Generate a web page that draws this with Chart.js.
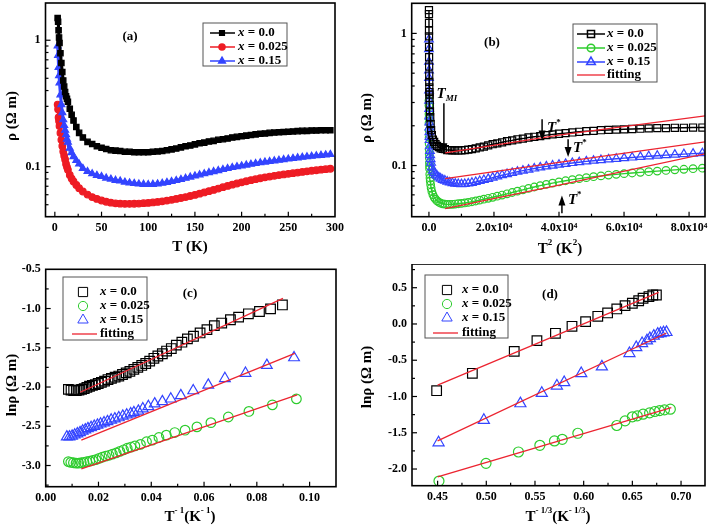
<!DOCTYPE html>
<html>
<head>
<meta charset="utf-8">
<script src="https://cdn.jsdelivr.net/npm/chart.js@4.4.1/dist/chart.umd.min.js"></script>
<style>
  body { margin: 0; background: #fff; }
  #wrap { position: relative; width: 709px; height: 528px; }
  canvas { position: absolute; }
</style>
</head>
<body>
<div id="wrap">
  <canvas id="chartA" width="355" height="264" style="left:0;top:0"></canvas>
  <canvas id="chartB" width="354" height="264" style="left:355px;top:0"></canvas>
  <canvas id="chartC" width="355" height="264" style="left:0;top:264px"></canvas>
  <canvas id="chartD" width="354" height="264" style="left:355px;top:264px"></canvas>
</div>
<script>
// resistivity vs temperature, panels (a) and (b)
const tempK = [3, 3.5, 4, 4.5, 5, 6, 7, 8, 9, 10, 11, 12, 13, 14, 16, 18, 20, 23, 26, 30, 35,
  40, 45, 50, 55, 60, 65, 70, 75, 80, 85, 90, 95, 100, 105, 110, 115, 120, 125, 130, 135, 140,
  145, 150, 155, 160, 165, 170, 175, 180, 185, 190, 195, 200, 205, 210, 215, 220, 225, 230,
  235, 240, 245, 250, 255, 260, 265, 270, 275, 280, 285, 290, 295];
const rhoX0 = [1.50, 1.40, 1.20, 1.05, 0.95, 0.79, 0.66, 0.56, 0.48, 0.43, 0.39, 0.36, 0.344, 0.326, 0.287, 0.257, 0.232, 0.206, 0.185, 0.170, 0.157,
  0.151, 0.145, 0.141, 0.138, 0.135, 0.134, 0.133, 0.131, 0.131, 0.130, 0.130, 0.130, 0.130, 0.131, 0.132, 0.133, 0.135, 0.137, 0.139, 0.142, 0.145,
  0.147, 0.150, 0.153, 0.155, 0.158, 0.160, 0.163, 0.165, 0.167, 0.170, 0.172, 0.174, 0.176, 0.178, 0.180, 0.182, 0.183, 0.185,
  0.186, 0.187, 0.188, 0.189, 0.190, 0.191, 0.192, 0.192, 0.193, 0.193, 0.194, 0.194, 0.194];
const rhoX025 = [0.31, 0.285, 0.245, 0.23, 0.21, 0.185, 0.163, 0.146, 0.132, 0.122, 0.114, 0.105, 0.0992, 0.0944, 0.086, 0.0805, 0.0763, 0.0716, 0.0675, 0.0636, 0.0602,
  0.0575, 0.0556, 0.0540, 0.0528, 0.0519, 0.0513, 0.0510, 0.0508, 0.0508, 0.0509, 0.0511, 0.0514, 0.0517, 0.0521, 0.0526, 0.0532, 0.0539, 0.0547, 0.0556, 0.0565, 0.0575,
  0.0586, 0.0598, 0.0611, 0.0625, 0.064, 0.0655, 0.0671, 0.0688, 0.0704, 0.072, 0.0736, 0.0752, 0.0767, 0.0782, 0.0796, 0.081, 0.0823, 0.0835,
  0.0847, 0.0858, 0.0868, 0.0878, 0.0888, 0.0898, 0.0908, 0.0918, 0.0928, 0.0937, 0.0946, 0.0955, 0.0963];
const rhoX15 = [0.90, 0.76, 0.61, 0.525, 0.46, 0.37, 0.31, 0.268, 0.235, 0.212, 0.194, 0.179, 0.165, 0.156, 0.140, 0.129, 0.120, 0.112, 0.105, 0.097, 0.0916,
  0.088, 0.0854, 0.0837, 0.0813, 0.0797, 0.078, 0.0770, 0.0755, 0.0745, 0.0737, 0.0730, 0.0725, 0.0723, 0.0725, 0.0731, 0.0740, 0.0751, 0.0764, 0.0778, 0.0793, 0.081,
  0.0828, 0.0845, 0.0862, 0.088, 0.0898, 0.0915, 0.0932, 0.095, 0.0968, 0.0985, 0.100, 0.1015, 0.103, 0.1045, 0.106, 0.1075, 0.1088, 0.110,
  0.1113, 0.1125, 0.1138, 0.115, 0.1163, 0.1175, 0.1187, 0.1198, 0.1209, 0.122, 0.123, 0.124, 0.125];

// T^2 fits, panel (b)
const fitBx = [5000, 40000, 85000];
const fitBx0 = [0.1247, 0.170, 0.2375];
const fitBx025 = [0.0472, 0.071, 0.1228];
const fitBx15 = [0.0796, 0.1055, 0.151];

// ln(rho) vs 1/T, panel (c)
const invTx0 = [0.0086, 0.0096, 0.0106, 0.0116, 0.0126, 0.0136, 0.0146, 0.0156, 0.0166, 0.0177, 0.0188, 0.0199, 0.0211, 0.0223, 0.0236,
  0.0249, 0.0263, 0.0277, 0.0291, 0.0305, 0.0319, 0.0334, 0.0349, 0.0364, 0.0379, 0.0394, 0.0410, 0.0425, 0.0442, 0.0458,
  0.0476, 0.0495, 0.0516, 0.0537, 0.0560, 0.0585, 0.0611, 0.0639, 0.0667, 0.0700, 0.0731, 0.0768, 0.0810, 0.0852, 0.0897];
const lnCx0 = [-2.03, -2.04, -2.045, -2.045, -2.04, -2.03, -2.02, -2.005, -1.99, -1.98, -1.97, -1.955, -1.94, -1.925, -1.905,
  -1.89, -1.875, -1.86, -1.84, -1.82, -1.80, -1.775, -1.75, -1.725, -1.70, -1.67, -1.634, -1.605, -1.576, -1.542,
  -1.51, -1.466, -1.429, -1.387, -1.353, -1.311, -1.269, -1.218, -1.185, -1.143, -1.109, -1.067, -1.038, -1.004, -0.954];
const invTx025 = [0.0086, 0.0095, 0.0105, 0.0115, 0.0125, 0.0135, 0.0145, 0.0156, 0.0167, 0.0178, 0.0190, 0.0202, 0.0214, 0.0227, 0.0240,
  0.0253, 0.0267, 0.0281, 0.0295, 0.0309, 0.0323, 0.0338, 0.0359, 0.0382, 0.0404, 0.0429, 0.0457, 0.0489, 0.0528, 0.0573,
  0.0626, 0.0692, 0.0770, 0.0859, 0.0950];
const lnCx025 = [-2.95, -2.96, -2.965, -2.97, -2.97, -2.965, -2.96, -2.95, -2.945, -2.935, -2.925, -2.91, -2.895, -2.88, -2.87,
  -2.855, -2.84, -2.82, -2.80, -2.78, -2.765, -2.75, -2.731, -2.697, -2.676, -2.643, -2.613, -2.58, -2.55, -2.508,
  -2.454, -2.382, -2.311, -2.227, -2.151];
const invTx15 = [0.0080, 0.0090, 0.0100, 0.0110, 0.0120, 0.0130, 0.0140, 0.0150, 0.0160, 0.0172, 0.0184, 0.0196, 0.0208, 0.0221, 0.0234,
  0.0248, 0.0262, 0.0277, 0.0292, 0.0307, 0.0322, 0.0334, 0.0351, 0.0368, 0.0389, 0.0413, 0.0442, 0.0474, 0.0512, 0.0559,
  0.0616, 0.0679, 0.0757, 0.0838, 0.0941];
const lnCx15 = [-2.635, -2.635, -2.625, -2.61, -2.595, -2.58, -2.56, -2.545, -2.53, -2.515, -2.50, -2.485, -2.47, -2.455, -2.44,
  -2.42, -2.405, -2.39, -2.37, -2.355, -2.34, -2.325, -2.307, -2.277, -2.248, -2.214, -2.185, -2.151, -2.109, -2.046,
  -1.975, -1.891, -1.824, -1.723, -1.626];
const fitCx0 = [[0.0131, 0.0899], [-2.067, -0.87]];
const fitCx025 = [[0.0135, 0.0953], [-3.042, -2.101]];
const fitCx15 = [[0.0135, 0.0944], [-2.676, -1.571]];

// ln(rho) vs T^-1/3, panel (d)
const t13x0 = [0.449, 0.4857, 0.5287, 0.552, 0.571, 0.588, 0.602, 0.6145, 0.6246, 0.634, 0.6425, 0.650, 0.6565, 0.661, 0.667, 0.671, 0.6747];
const lnDx0 = [-0.92, -0.68, -0.378, -0.23, -0.129, -0.032, 0.032, 0.106, 0.152, 0.207, 0.253, 0.286, 0.32, 0.355, 0.378, 0.40, 0.40];
const t13x025 = [0.4514, 0.4997, 0.533, 0.555, 0.57, 0.578, 0.594, 0.634, 0.6425, 0.650, 0.655, 0.661, 0.6677, 0.673, 0.678, 0.683, 0.689];
const lnDx025 = [-2.166, -1.922, -1.765, -1.673, -1.613, -1.59, -1.507, -1.40, -1.336, -1.28, -1.267, -1.244, -1.226, -1.207, -1.194, -1.184, -1.175];
const t13x15 = [0.451, 0.4975, 0.535, 0.557, 0.5725, 0.580, 0.5975, 0.6187, 0.647, 0.654, 0.66, 0.665, 0.668, 0.672, 0.676, 0.679, 0.682, 0.685];
const lnDx15 = [-1.636, -1.327, -1.097, -0.954, -0.853, -0.806, -0.682, -0.59, -0.405, -0.323, -0.267, -0.23, -0.198, -0.166, -0.138, -0.129, -0.12, -0.115];
const fitDx0 = [[0.45, 0.677], [-0.843, 0.437]];
const fitDx025 = [[0.45, 0.690], [-2.11, -1.152]];
const fitDx15 = [[0.45, 0.685], [-1.613, -0.124]];

// tick labels
const ticksA_x = [0, 50, 100, 150, 200, 250, 300];
const ticksLog = [0.1, 1];
const ticksB_x = [0, 20000, 40000, 60000, 80000];
const labelsB_x = ['0.0', '2.0x10\u2074', '4.0x10\u2074', '6.0x10\u2074', '8.0x10\u2074'];
const ticksC_x = [0, 0.02, 0.04, 0.06, 0.08, 0.10];
const ticksC_y = [-3.0, -2.5, -2.0, -1.5, -1.0, -0.5];
const ticksD_x = [0.45, 0.50, 0.55, 0.60, 0.65, 0.70];
const ticksD_y = [-2.0, -1.5, -1.0, -0.5, 0.0, 0.5];
const logMinor = [0.05, 0.06, 0.07, 0.08, 0.09, 0.2, 0.3, 0.4, 0.5, 0.6, 0.7, 0.8, 0.9];

const SERIF = '"Liberation Serif", "Times New Roman", serif';
const BLACK = '#000000', RED = '#ee1c24', GREEN = '#2ecc2e', BLUE = '#3344ff', FITRED = '#ec2430';

Chart.defaults.font.family = SERIF;
Chart.defaults.font.size = 12;
Chart.defaults.font.weight = 'bold';
Chart.defaults.color = '#000';

function pts(xs, ys) {
  return xs.map((x, i) => ({x: x, y: ys[i]}));
}

function fontFor(p, size) {
  const s = (p.sup || p.sub) ? Math.round(size * 0.62) : size;
  return (p.it ? 'italic ' : '') + 'bold ' + s + 'px ' + SERIF;
}

// text with super/subscripts
function drawRich(ctx, parts, x, y, size, align) {
  let total = 0;
  parts.forEach(p => { ctx.font = fontFor(p, size); total += ctx.measureText(p.t).width; });
  let cx = align === 'center' ? x - total / 2 : x;
  ctx.textBaseline = 'middle';
  ctx.textAlign = 'left';
  parts.forEach(p => {
    ctx.font = fontFor(p, size);
    const dy = p.sup ? -size * 0.4 : (p.sub ? size * 0.28 : 0);
    ctx.fillText(p.t, cx, y + dy);
    cx += ctx.measureText(p.t).width;
  });
}

function drawArrow(ctx, x, y1, y2) {
  const dir = y2 > y1 ? 1 : -1;
  ctx.beginPath();
  ctx.moveTo(x, y1);
  ctx.lineTo(x, y2 - dir * 6);
  ctx.stroke();
  ctx.beginPath();
  ctx.moveTo(x, y2);
  ctx.lineTo(x - 3.5, y2 - dir * 10);
  ctx.lineTo(x + 3.5, y2 - dir * 10);
  ctx.closePath();
  ctx.fill();
}

function marker(ctx, style, x, y, r, color, filled) {
  ctx.save();
  ctx.strokeStyle = color;
  ctx.fillStyle = filled ? color : 'rgba(0,0,0,0)';
  Chart.helpers.drawPoint(ctx, {pointStyle: style, radius: r, borderWidth: 1.2, rotation: 0}, x, y);
  ctx.restore();
}

// frame, inward ticks, titles, legend box and notes
const decor = {
  id: 'decor',
  afterDraw(chart, args, o) {
    const ctx = chart.ctx, a = chart.chartArea, sx = chart.scales.x, sy = chart.scales.y;
    ctx.save();
    ctx.strokeStyle = '#000';
    ctx.fillStyle = '#000';
    ctx.lineWidth = 1.2;
    const tick = (vals, len, isX) => vals.forEach(v => {
      const p = isX ? sx.getPixelForValue(v) : sy.getPixelForValue(v);
      if (isX && (p < a.left + 1 || p > a.right - 1)) return;
      if (!isX && (p < a.top + 1 || p > a.bottom - 1)) return;
      ctx.beginPath();
      if (isX) { ctx.moveTo(p, a.bottom); ctx.lineTo(p, a.bottom - len); }
      else { ctx.moveTo(a.left, p); ctx.lineTo(a.left + len, p); }
      ctx.stroke();
    });
    tick(sx.ticks.map(t => t.value), 5, true);
    tick(o.xMinor || [], 3, true);
    tick(sy.ticks.map(t => t.value), 5, false);
    tick(o.yMinor || [], 3, false);
    ctx.lineWidth = 1.6;
    ctx.strokeRect(a.left, a.top, a.right - a.left, a.bottom - a.top);

    // axis titles
    drawRich(ctx, o.titleX.parts, o.titleX.x, o.titleX.y, 15, 'center');
    ctx.save();
    ctx.translate(o.titleY.x, o.titleY.y);
    ctx.rotate(-Math.PI / 2);
    drawRich(ctx, o.titleY.parts, 0, 0, 15, 'center');
    ctx.restore();

    // panel tag
    ctx.font = 'bold 13px ' + SERIF;
    ctx.textAlign = 'center';
    ctx.fillText(o.tag.text, o.tag.x, o.tag.y);

    // legend
    const lg = o.legend;
    ctx.lineWidth = 1;
    ctx.strokeStyle = '#555';
    ctx.strokeRect(lg.box[0], lg.box[1], lg.box[2], lg.box[3]);
    lg.rows.forEach((r, i) => {
      const y = lg.rowY[i];
      if (r.fit) {
        ctx.strokeStyle = FITRED;
        ctx.lineWidth = 1.3;
        ctx.beginPath(); ctx.moveTo(lg.line[0], y); ctx.lineTo(lg.line[1], y); ctx.stroke();
        ctx.fillStyle = '#000';
        drawRich(ctx, [{t: 'fitting'}], lg.tx, y, 13, 'left');
        return;
      }
      if (lg.withLine) {
        ctx.strokeStyle = r.color;
        ctx.lineWidth = 1.5;
        ctx.beginPath(); ctx.moveTo(lg.line[0], y); ctx.lineTo(lg.line[1], y); ctx.stroke();
      }
      marker(ctx, r.style, lg.mx, y, r.r, r.color, r.filled);
      ctx.fillStyle = '#000';
      drawRich(ctx, [{t: 'x', it: true}, {t: ' = ' + r.text}], lg.tx, y, 13, 'left');
    });

    // arrows with labels (panel b)
    (o.arrows || []).forEach(ar => {
      const px = sx.getPixelForValue(ar.x), p1 = sy.getPixelForValue(ar.y1), p2 = sy.getPixelForValue(ar.y2);
      ctx.strokeStyle = '#000';
      ctx.fillStyle = '#000';
      ctx.lineWidth = 1.5;
      drawArrow(ctx, px, p1, p2);
      drawRich(ctx, ar.label, px + ar.lx, p1 + ar.ly, 15, ar.align || 'left');
    });
    ctx.restore();
  }
};

function fixY(w) {
  return s => { s.width = w; s.paddingTop = 0; s.paddingBottom = 0; };
}
function fixX(h) {
  return s => { s.height = h; s.paddingLeft = 0; s.paddingRight = 0; };
}
function setTicks(vals) {
  return s => { s.ticks = vals.map(v => ({value: v})); };
}

function makeChart(id, cfg) {
  return new Chart(document.getElementById(id), {
    type: 'scatter',
    data: {datasets: cfg.datasets},
    plugins: [decor],
    options: {
      responsive: false,
      maintainAspectRatio: false,
      animation: false,
      events: [],
      layout: {padding: cfg.padding, autoPadding: false},
      plugins: {legend: {display: false}, tooltip: {enabled: false}, decor: cfg.decor},
      scales: {
        x: Object.assign({
          grid: {display: false, drawTicks: false},
          border: {display: false},
          ticks: {padding: 4, maxRotation: 0, autoSkip: false, font: {size: 12, weight: 'bold'}},
          afterFit: fixX(cfg.xh)
        }, cfg.x),
        y: Object.assign({
          grid: {display: false, drawTicks: false},
          border: {display: false},
          ticks: {padding: 5, autoSkip: false, font: {size: 12, weight: 'bold'}},
          afterFit: fixY(cfg.yw)
        }, cfg.y)
      }
    }
  });
}

function dataSet(data, color, style, r, filled, line, lw) {
  return {
    data: data, showLine: line, borderColor: color, borderWidth: line ? (lw || 1.4) : 0,
    backgroundColor: filled ? color : 'rgba(0,0,0,0)',
    pointStyle: style, pointRadius: r, pointBorderWidth: 1.2, pointBorderColor: color,
    pointBackgroundColor: filled ? color : 'rgba(0,0,0,0)', order: 1
  };
}
function fitSet(data) {
  return {data: data, showLine: true, borderColor: FITRED, borderWidth: 1.3, pointRadius: 0, order: 0};
}

const rhoTitle = [{t: '\u03c1 (\u03a9 m)'}];
const lnTitle = [{t: 'ln\u03c1 (\u03a9 m)'}];

// (a) rho vs T
makeChart('chartA', {
  padding: {left: 0, top: 3, right: 20, bottom: 0},
  yw: 45.5, xh: 47.3,
  x: {type: 'linear', min: -10, max: 300, afterBuildTicks: setTicks(ticksA_x), ticks: {padding: 4, font: {size: 12, weight: 'bold'}, callback: v => String(v)}},
  y: {type: 'logarithmic', min: 0.0402, max: 1.97, afterBuildTicks: setTicks(ticksLog), ticks: {padding: 5, font: {size: 12, weight: 'bold'}, callback: v => String(v)}},
  datasets: [
    dataSet(pts(tempK, rhoX0), BLACK, 'rect', 3.8, true, true, 3),
    dataSet(pts(tempK, rhoX15), BLUE, 'triangle', 4, true, true, 3),
    dataSet(pts(tempK, rhoX025), RED, 'circle', 3.3, true, true, 3)
  ],
  decor: {
    xMinor: [25, 75, 125, 175, 225, 275], yMinor: logMinor,
    titleX: {parts: [{t: 'T (K)'}], x: 190, y: 247},
    titleY: {parts: rhoTitle, x: 12, y: 116},
    tag: {text: '(a)', x: 130, y: 37},
    legend: {box: [203, 23, 84, 43], rowY: [33, 47, 61], line: [210, 235], mx: 222, tx: 238, withLine: true,
      rows: [
        {text: '0.0', color: BLACK, style: 'rect', r: 3.3, filled: true},
        {text: '0.025', color: RED, style: 'circle', r: 3, filled: true},
        {text: '0.15', color: BLUE, style: 'triangle', r: 3.8, filled: true}
      ]}
  }
});

// (b) rho vs T^2
const tSquared = tempK.map(t => t * t);
const T_MI = [{t: 'T', it: true}, {t: 'MI', it: true, sub: true}];
const T_STAR = [{t: 'T', it: true}, {t: '*', sup: true}];
makeChart('chartB', {
  padding: {left: 0, top: 3.3, right: 4, bottom: 0},
  yw: 56.7, xh: 47.3,
  x: {type: 'linear', min: -5300, max: 84900, afterBuildTicks: setTicks(ticksB_x), ticks: {padding: 4, font: {size: 12, weight: 'bold'}, callback: (v, i) => labelsB_x[i]}},
  y: {type: 'logarithmic', min: 0.041, max: 1.69, afterBuildTicks: setTicks(ticksLog), ticks: {padding: 5, font: {size: 12, weight: 'bold'}, callback: v => String(v)}},
  datasets: [
    fitSet(pts(fitBx, fitBx0)),
    fitSet(pts(fitBx, fitBx15)),
    fitSet(pts(fitBx, fitBx025)),
    dataSet(pts(tSquared, rhoX0), BLACK, 'rect', 5, false, true),
    dataSet(pts(tSquared, rhoX15), BLUE, 'triangle', 5, false, true),
    dataSet(pts(tSquared, rhoX025), GREEN, 'circle', 3.8, false, true)
  ],
  decor: {
    xMinor: [10000, 30000, 50000, 70000], yMinor: logMinor,
    titleX: {parts: [{t: 'T'}, {t: '2', sup: true}, {t: ' (K'}, {t: '2', sup: true}, {t: ')'}], x: 205, y: 249},
    titleY: {parts: rhoTitle, x: 12, y: 118},
    tag: {text: '(b)', x: 137, y: 43},
    legend: {box: [218, 24, 84, 58], rowY: [34, 48, 62, 75], line: [222, 250], mx: 236, tx: 252, withLine: true,
      rows: [
        {text: '0.0', color: BLACK, style: 'rect', r: 5, filled: false},
        {text: '0.025', color: GREEN, style: 'circle', r: 3.8, filled: false},
        {text: '0.15', color: BLUE, style: 'triangle', r: 5, filled: false},
        {fit: true}
      ]},
    arrows: [
      {x: 4600, y1: 0.296, y2: 0.124, label: T_MI, lx: 3, ly: -9, align: 'center'},
      {x: 34800, y1: 0.224, y2: 0.155, label: T_STAR, lx: 5, ly: 9},
      {x: 42800, y1: 0.158, y2: 0.116, label: T_STAR, lx: 5, ly: 9},
      {x: 40900, y1: 0.0435, y2: 0.0594, label: T_STAR, lx: 6, ly: -13}
    ]
  }
});

// (c) ln rho vs 1/T
makeChart('chartC', {
  padding: {left: 0, top: 5.3, right: 19, bottom: 0},
  yw: 45.7, xh: 41.3,
  x: {type: 'linear', min: 0, max: 0.11, afterBuildTicks: setTicks(ticksC_x), ticks: {padding: 4, font: {size: 12, weight: 'bold'}, callback: v => v.toFixed(2)}},
  y: {type: 'linear', min: -3.27, max: -0.5, afterBuildTicks: setTicks(ticksC_y), ticks: {padding: 5, font: {size: 12, weight: 'bold'}, callback: v => v.toFixed(1)}},
  datasets: [
    fitSet(pts(fitCx0[0], fitCx0[1])),
    fitSet(pts(fitCx15[0], fitCx15[1])),
    fitSet(pts(fitCx025[0], fitCx025[1])),
    dataSet(pts(invTx0, lnCx0), BLACK, 'rect', 6.8, false, false),
    dataSet(pts(invTx15, lnCx15), BLUE, 'triangle', 6.2, false, false),
    dataSet(pts(invTx025, lnCx025), GREEN, 'circle', 4.8, false, false)
  ],
  decor: {
    xMinor: [0.01, 0.03, 0.05, 0.07, 0.09], yMinor: [-3.25, -2.75, -2.25, -1.75, -1.25, -0.75],
    titleX: {parts: [{t: 'T'}, {t: '- 1', sup: true}, {t: '(K'}, {t: '- 1', sup: true}, {t: ')'}], x: 190, y: 253},
    titleY: {parts: lnTitle, x: 12, y: 121},
    tag: {text: '(c)', x: 190, y: 30},
    legend: {box: [63, 13, 84, 63], rowY: [28, 42, 56, 70], line: [72, 97], mx: 83, tx: 100, withLine: false,
      rows: [
        {text: '0.0', color: BLACK, style: 'rect', r: 6.5, filled: false},
        {text: '0.025', color: GREEN, style: 'circle', r: 4.6, filled: false},
        {text: '0.15', color: BLUE, style: 'triangle', r: 6, filled: false},
        {fit: true}
      ]}
  }
});

// (d) ln rho vs T^-1/3
makeChart('chartD', {
  padding: {left: 0, top: 0, right: 4, bottom: 0},
  yw: 57, xh: 42.3,
  x: {type: 'linear', min: 0.4237, max: 0.7246, afterBuildTicks: setTicks(ticksD_x), ticks: {padding: 4, font: {size: 12, weight: 'bold'}, callback: v => v.toFixed(2)}},
  y: {type: 'linear', min: -2.23, max: 0.827, afterBuildTicks: setTicks(ticksD_y), ticks: {padding: 5, font: {size: 12, weight: 'bold'}, callback: v => v.toFixed(1)}},
  datasets: [
    fitSet(pts(fitDx0[0], fitDx0[1])),
    fitSet(pts(fitDx15[0], fitDx15[1])),
    fitSet(pts(fitDx025[0], fitDx025[1])),
    dataSet(pts(t13x0, lnDx0), BLACK, 'rect', 6.8, false, false),
    dataSet(pts(t13x15, lnDx15), BLUE, 'triangle', 6.4, false, false),
    dataSet(pts(t13x025, lnDx025), GREEN, 'circle', 5, false, false)
  ],
  decor: {
    xMinor: [0.475, 0.525, 0.575, 0.625, 0.675], yMinor: [-1.75, -1.25, -0.75, -0.25, 0.25, 0.75],
    titleX: {parts: [{t: 'T'}, {t: '- 1/3', sup: true}, {t: '(K'}, {t: '- 1/3', sup: true}, {t: ')'}], x: 203, y: 253},
    titleY: {parts: lnTitle, x: 12, y: 113},
    tag: {text: '(d)', x: 195, y: 31},
    legend: {box: [70, 11, 83, 63], rowY: [26, 40, 54, 69], line: [78, 103], mx: 92, tx: 107, withLine: false,
      rows: [
        {text: '0.0', color: BLACK, style: 'rect', r: 6.5, filled: false},
        {text: '0.025', color: GREEN, style: 'circle', r: 4.6, filled: false},
        {text: '0.15', color: BLUE, style: 'triangle', r: 6, filled: false},
        {fit: true}
      ]}
  }
});
</script>
</body>
</html>
